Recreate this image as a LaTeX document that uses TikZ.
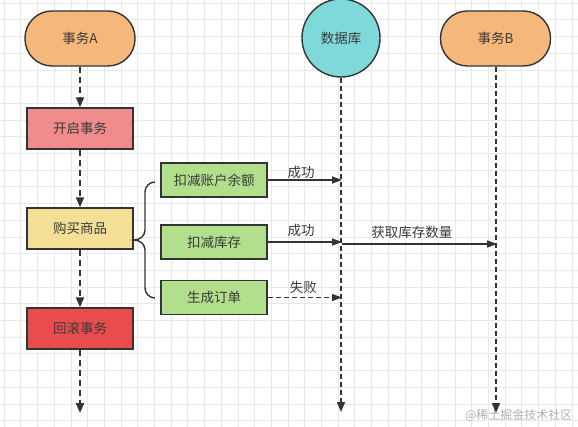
\documentclass[tikz,border=0pt]{standalone}
\usepackage{fontspec}
\newfontfamily\cjk{Noto Sans CJK SC}
\usetikzlibrary{arrows.meta}
\definecolor{gridc}{HTML}{E8E8E8}
\definecolor{ink}{HTML}{333333}
\definecolor{txt}{HTML}{3A3A3A}
\definecolor{orangef}{HTML}{F6B77B}
\definecolor{pinkf}{HTML}{F08C8C}
\definecolor{yellowf}{HTML}{F3E096}
\definecolor{redf}{HTML}{E84C4C}
\definecolor{greenf}{HTML}{B2DF8B}
\definecolor{cyanf}{HTML}{7ED9D8}
\definecolor{wmark}{HTML}{B0B0B0}
\tikzset{
  lbl/.style={font=\cjk\fontsize{13.5}{15}\selectfont, text=txt},
  box/.style={lbl, draw=ink, line width=1.4pt, minimum width=106pt, minimum height=41pt, inner sep=0pt},
  pill/.style={lbl, draw=ink, line width=1.4pt, fill=orangef, minimum width=110pt, minimum height=55pt, rounded corners=27pt, inner sep=0pt},
  gbox/.style={lbl, draw=ink, line width=1.4pt, fill=greenf, minimum width=106pt, minimum height=34pt, inner sep=0pt},
  flowarrow/.style={draw=ink, line width=2pt, dash pattern=on 6pt off 4pt, -{Triangle[length=10pt,width=8pt]}},
  lifeline/.style={draw=ink, line width=1.6pt, dash pattern=on 5pt off 3pt, -{Triangle[length=10pt,width=8pt]}},
  msg/.style={draw=ink, line width=1.4pt, -{Triangle[length=10pt,width=7pt]}},
  msgdash/.style={msg, dash pattern=on 5pt off 3pt},
}
\begin{document}
\begin{tikzpicture}[x=1pt,y=-1pt]
\useasboundingbox (0,0) rectangle (578,427);
\fill[white] (0,0) rectangle (578,427);
% grid
\foreach \i in {0,...,34} {
  \pgfmathsetmacro{\xx}{4.2+16.7*\i}
  \draw[gridc, line width=0.9pt] (\xx,0) -- (\xx,427);
}
\foreach \j in {0,...,25} {
  \pgfmathsetmacro{\yy}{3.2+16.7*\j}
  \draw[gridc, line width=0.9pt] (0,\yy) -- (578,\yy);
}
% watermark
\node[font=\cjk\fontsize{12}{14}\selectfont, text=wmark, anchor=east] (wm) at (576,415) {@稀土掘金技术社区};

% transaction A column
\node[pill] (ta) at (80,38.5) {事务A};
\node[box, fill=pinkf] (kq) at (80,128.5) {开启事务};
\node[box, fill=yellowf] (gm) at (80,228.5) {购买商品};
\node[box, fill=redf] (hg) at (80,328.5) {回滚事务};
\coordinate (aend) at (80,413);

% database and B
\node[circle, draw=ink, line width=1.4pt, fill=cyanf, minimum size=78pt, inner sep=0pt, lbl] (db) at (341,38) {数据库};
\node[pill] (tb) at (495.5,38.5) {事务B};
\coordinate (dbend) at (341,412);
\coordinate (tbend) at (496,413);

% green steps
\node[gbox] (g1) at (214,180) {扣减账户余额};
\node[gbox] (g2) at (214,242) {扣减库存};
\node[gbox] (g3) at (214,297.5) {生成订单};

% lifelines
\draw[lifeline] (db.south) -- (dbend);
\draw[lifeline] (tb.south -| tbend) -- (tbend);

% flow arrows
\draw[flowarrow] (ta) -- (kq);
\draw[flowarrow] (kq) -- (gm);
\draw[flowarrow] (gm) -- (hg);
\draw[flowarrow] (hg) -- (aend);

% brace
\coordinate (btip) at (134,240);
\draw[ink, line width=1.4pt] (155,182) to[out=180,in=90] (145,192) -- (145,230) to[out=-90,in=0] (btip) to[out=0,in=90] (145,250) -- (145,288) to[out=-90,in=180] (155,298);

% messages
\coordinate (m1) at (342,180);
\coordinate (m2) at (342,242);
\coordinate (m3a) at (342,244);
\coordinate (m3b) at (497,244);
\coordinate (m4) at (342,297.5);
\draw[msg] (g1.east) -- node[lbl, above, pos=0.45, inner sep=1pt] {成功} (m1);
\draw[msg] (g2.east) -- node[lbl, above, pos=0.45, inner sep=1pt, yshift=4pt] {成功} (m2);
\draw[msg] (m3a) -- node[lbl, above, pos=0.45, inner sep=1pt, yshift=4pt] {获取库存数量} (m3b);
\draw[msgdash] (g3.east) -- node[lbl, above, pos=0.48, inner sep=1pt, yshift=2pt] {失败} (m4);
\end{tikzpicture}
\end{document}
